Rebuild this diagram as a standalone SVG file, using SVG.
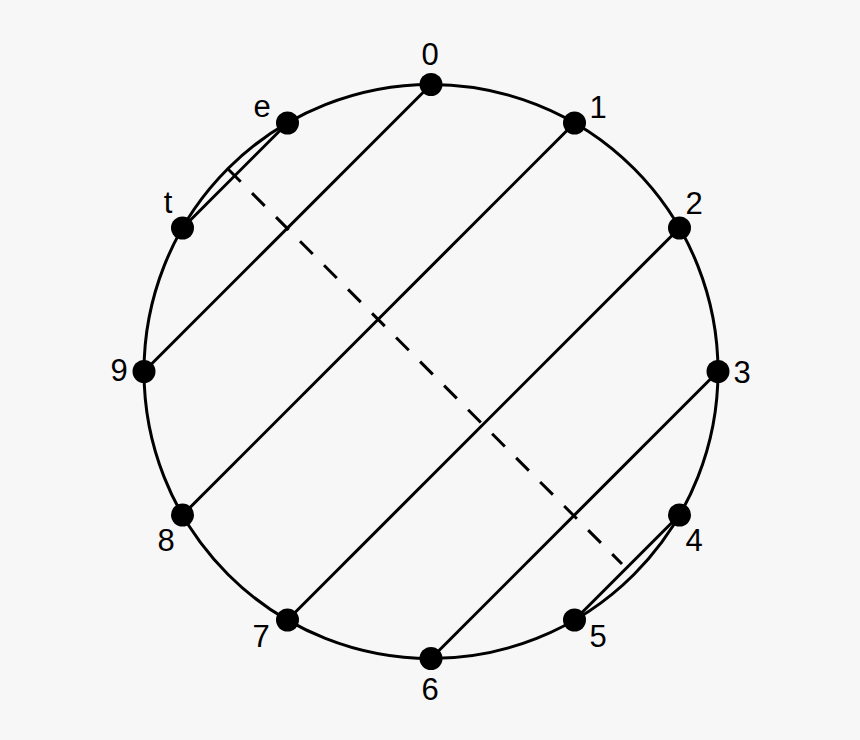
<svg xmlns="http://www.w3.org/2000/svg" width="860" height="740" viewBox="0 0 860 740">
<style>
.ln{stroke:#000;stroke-width:3;fill:none}
.dot{fill:#000}
.lb{font-family:"Liberation Sans",Arial,sans-serif;font-size:31px;fill:#000;text-anchor:middle}
</style>
<rect width="860" height="740" fill="#f7f7f7"/>
<circle id="ring" class="ln" cx="431" cy="371.5" r="287"/>
<g id="connectors">
<line class="ln" x1="431" y1="84.5" x2="144" y2="371.5"/>
<line class="ln" x1="574.5" y1="123" x2="182.5" y2="515"/>
<line class="ln" x1="679.5" y1="228" x2="287.5" y2="620"/>
<line class="ln" x1="718" y1="371.5" x2="431" y2="658.5"/>
<line class="ln" x1="287.5" y1="123" x2="182.5" y2="228"/>
<line class="ln" x1="679.5" y1="515" x2="574.5" y2="620"/>
<line class="ln" x1="228" y1="169" x2="622" y2="564" stroke-dasharray="18 16"/>
</g>
<g id="n0"><circle class="dot" cx="431" cy="84.5" r="11.5"/><text class="lb" x="430" y="65">0</text></g>
<g id="n1"><circle class="dot" cx="574.5" cy="123" r="11.5"/><text class="lb" x="598" y="118">1</text></g>
<g id="n2"><circle class="dot" cx="679.5" cy="228" r="11.5"/><text class="lb" x="694" y="214">2</text></g>
<g id="n3"><circle class="dot" cx="718" cy="371.5" r="11.5"/><text class="lb" x="742" y="383">3</text></g>
<g id="n4"><circle class="dot" cx="679.5" cy="515" r="11.5"/><text class="lb" x="694" y="551">4</text></g>
<g id="n5"><circle class="dot" cx="574.5" cy="620" r="11.5"/><text class="lb" x="598" y="647">5</text></g>
<g id="n6"><circle class="dot" cx="431" cy="658.5" r="11.5"/><text class="lb" x="430" y="700">6</text></g>
<g id="n7"><circle class="dot" cx="287.5" cy="620" r="11.5"/><text class="lb" x="261" y="647">7</text></g>
<g id="n8"><circle class="dot" cx="182.5" cy="515" r="11.5"/><text class="lb" x="166" y="551">8</text></g>
<g id="n9"><circle class="dot" cx="144" cy="371.5" r="11.5"/><text class="lb" x="119" y="381">9</text></g>
<g id="nt"><circle class="dot" cx="182.5" cy="228" r="11.5"/><text class="lb" x="168" y="213">t</text></g>
<g id="ne"><circle class="dot" cx="287.5" cy="123" r="11.5"/><text class="lb" x="262" y="117">e</text></g>
</svg>
